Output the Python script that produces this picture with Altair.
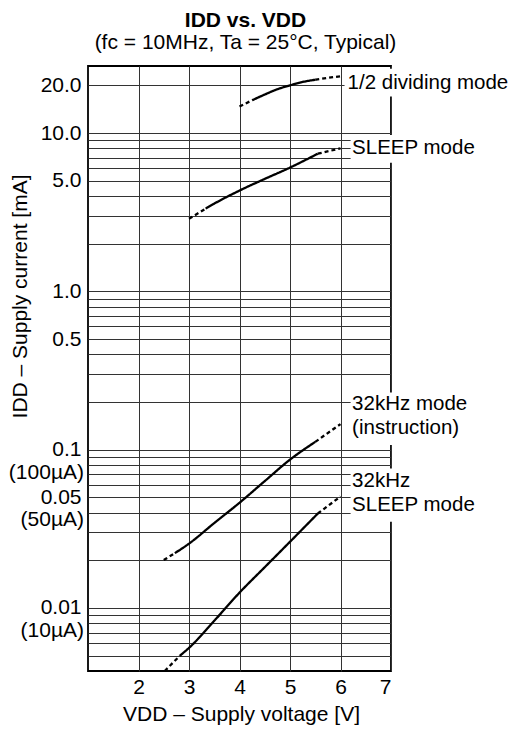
import altair as alt
import pandas as pd

# ---- curve data: VDD [V] vs IDD [mA] ----
div_v = [4.0, 4.25, 4.5, 4.75, 5.0, 5.25, 5.5, 5.75, 6.0]
div_i = [14.7, 16.1, 17.5, 18.9, 20.0, 21.0, 21.7, 22.3, 22.8]
sleep_v = [3.0, 3.33, 3.5, 4.0, 4.5, 5.0, 5.55, 6.0]
sleep_i = [2.87, 3.33, 3.58, 4.33, 5.13, 6.05, 7.4, 8.0]
k32_v = [2.5, 2.72, 3.0, 3.5, 4.0, 4.5, 5.0, 5.5, 6.0]
k32_i = [0.0201, 0.0222, 0.0255, 0.0344, 0.0462, 0.0633, 0.0865, 0.112, 0.145]
k32s_v = [2.52, 2.82, 3.0, 3.5, 4.0, 4.5, 5.0, 5.55, 6.0]
k32s_i = [0.0040, 0.0050, 0.0056, 0.0083, 0.0125, 0.0181, 0.0262, 0.0395, 0.0506]
curve_names = ["1/2 dividing", "SLEEP", "32kHz", "32kHz SLEEP"]
# index range of the solid (measured) part of each curve; the rest is dashed
solid_from = [1, 1, 1, 1]
solid_to = [6, 6, 7, 7]

# ---- axes ----
x_ticks = [2, 3, 4, 5, 6, 7]
y_grid = [0.005, 0.006, 0.007, 0.008, 0.009,
          0.01, 0.02, 0.03, 0.04, 0.05, 0.06, 0.07, 0.08, 0.09,
          0.1, 0.2, 0.3, 0.4, 0.5, 0.6, 0.7, 0.8, 0.9,
          1, 2, 3, 4, 5, 6, 7, 8, 9, 10, 20]
y_label_vals = [20, 10, 5, 1, 0.5, 0.1, 0.05, 0.01]
y_label_text = ["20.0", "10.0", "5.0", "1.0", "0.5", "0.1", "0.05", "0.01"]
sub_vals = [0.1, 0.05, 0.01]
sub_text = ["(100µA)", "(50µA)", "(10µA)"]

# ---- curve labels ----
lab_text = ["1/2 dividing mode", "SLEEP mode", "32kHz mode", "(instruction)", "32kHz", "SLEEP mode"]
lab_v = [6.14, 6.23, 6.23, 6.23, 6.23, 6.23]
lab_i = [20.8, 8.0, 0.193, 0.1368, 0.0633, 0.0446]
box_x0 = [6.08, 6.2, 6.2, 6.2]
box_x1 = [7.15, 7.15, 7.15, 7.15]
box_top = [25.5, 9.7, 0.23, 0.076]
box_bot = [17.0, 6.5, 0.107, 0.035]

FONT = "Liberation Sans"
FS = 21

rows = []
for name, vs, is_, a, b in zip(curve_names, [div_v, sleep_v, k32_v, k32s_v],
                               [div_i, sleep_i, k32_i, k32s_i], solid_from, solid_to):
    parts = [("dashed", 0, a), ("solid", a, b), ("dashed", b, len(vs) - 1)]
    for k, (style, s, e) in enumerate(parts):
        for j in range(s, e + 1):
            rows.append({"seg": f"{name}-{k}", "style": style, "v": vs[j], "i": is_[j], "o": j})
curves = pd.DataFrame(rows)

xscale = alt.Scale(domain=[1, 7], nice=False, zero=False)
yscale = alt.Scale(type="log", domain=[0.004, 26.5], nice=False)

label_expr = " : ".join(f"datum.value == {v} ? '{t}'" for v, t in zip(y_label_vals, y_label_text)) + " : ''"

xaxis = alt.Axis(values=x_ticks, title="VDD – Supply voltage [V]", grid=True, ticks=False, tickSize=0,
                 domain=False, labelPadding=5, titleY=49, titleX=153, titleBaseline="alphabetic",
                 titleAlign="center", labelAngle=0)
yaxis = alt.Axis(values=y_grid, labelExpr=label_expr, title="IDD – Supply current [mA]", grid=True,
                 ticks=False, tickSize=0, domain=False, labelPadding=7, labelBaseline="middle",
                 titleAngle=270, titleX=-62, titleY=230, titleAlign="center", titleBaseline="alphabetic",
                 labelOverlap=False)

lines = alt.Chart(curves).mark_line(color="black", strokeWidth=2.3, interpolate="monotone").encode(
    x=alt.X("v:Q", scale=xscale, axis=xaxis),
    y=alt.Y("i:Q", scale=yscale, axis=yaxis),
    detail="seg:N",
    order="o:Q",
    strokeDash=alt.StrokeDash("style:N", scale=alt.Scale(domain=["solid", "dashed"], range=[[1, 0], [4, 3]]),
                              legend=None),
)

boxes = alt.Chart(pd.DataFrame({"x0": box_x0, "x1": box_x1, "t": box_top, "b": box_bot})).mark_rect(
    fill="white", strokeWidth=0).encode(
    x="x0:Q", x2="x1:Q", y="t:Q", y2="b:Q")

labels = alt.Chart(pd.DataFrame({"t": lab_text, "v": lab_v, "i": lab_i})).mark_text(
    align="left", baseline="middle", font=FONT, fontSize=20.5, color="black").encode(
    x="v:Q", y="i:Q", text="t:N")

sublabels = alt.Chart(pd.DataFrame({"t": sub_text, "i": sub_vals})).mark_text(
    align="right", baseline="middle", font=FONT, fontSize=FS, color="black", dy=23).encode(
    x=alt.value(-4), y="i:Q", text="t:N")

chart = alt.layer(boxes, lines, labels, sublabels).properties(
    width=303, height=605,
    title=alt.TitleParams(text="IDD vs. VDD", subtitle="(fc = 10MHz, Ta = 25°C, Typical)",
                          font=FONT, fontSize=FS, fontWeight="bold", color="black",
                          subtitleFont=FONT, subtitleFontSize=FS, subtitleColor="black",
                          anchor="middle", offset=13, dx=6, subtitlePadding=1),
    autosize=alt.AutoSizeParams(type="none"),
    padding={"left": 80, "top": 58, "right": 118, "bottom": 54},
).configure_view(stroke="black", strokeWidth=1.8).configure_axis(
    gridColor="#333333", gridWidth=1, gridOpacity=1, labelFont=FONT, labelFontSize=FS, labelColor="black",
    titleFont=FONT, titleFontSize=FS, titleFontWeight="normal", titleColor="black")

chart.save("out.html", embed_options={"renderer": "svg", "actions": False})
